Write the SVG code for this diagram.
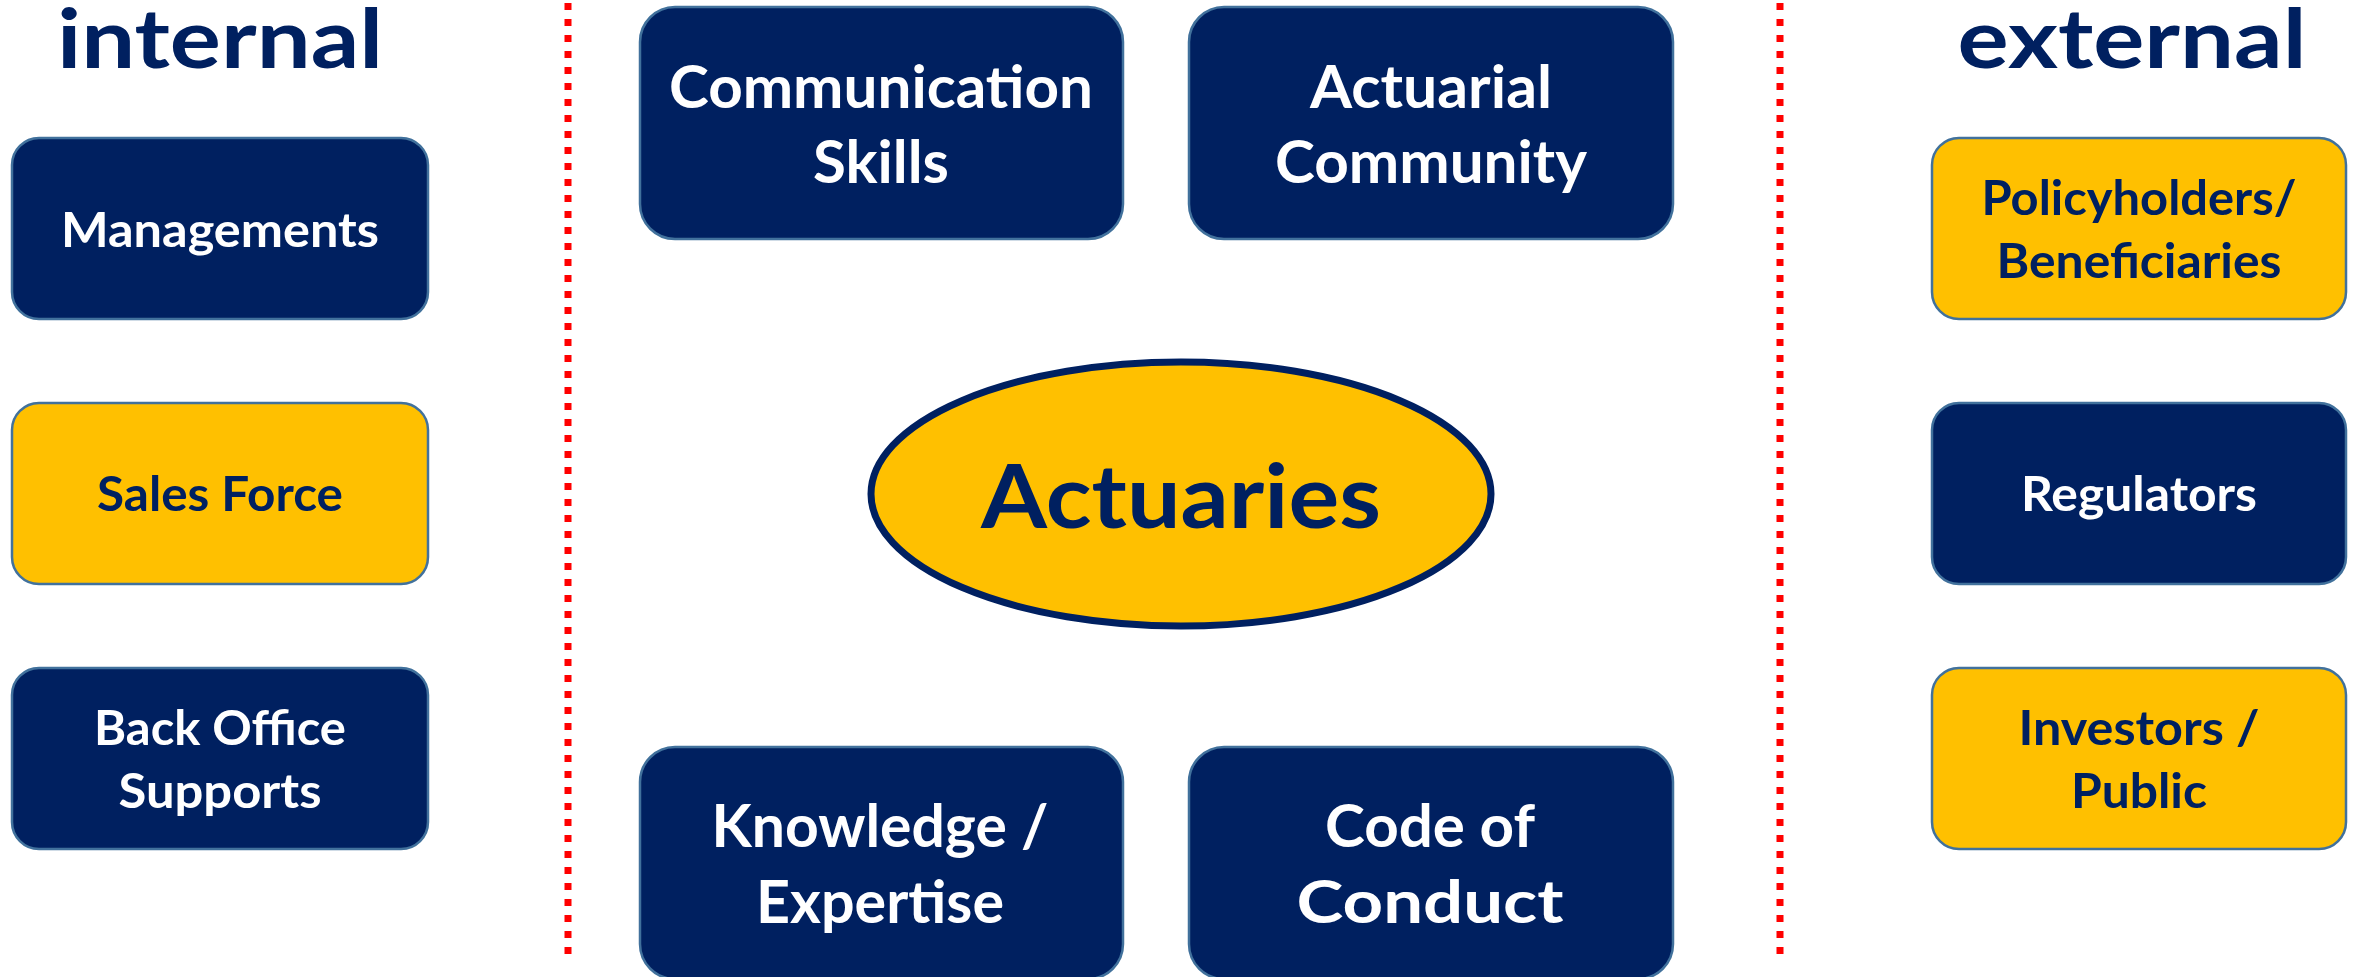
<svg xmlns="http://www.w3.org/2000/svg" width="2361" height="977" viewBox="0 0 2361 977">
<style>
.t{font-family:Lato,"Open Sans","Liberation Sans",sans-serif;font-weight:bold;text-anchor:middle}
.navy{fill:#002060;stroke:#41719C;stroke-width:2.5}
.gold{fill:#FFC000;stroke:#41719C;stroke-width:2.5}
.w{fill:#FFFFFF}
.n{fill:#002060}
.s{font-size:48px}
.m{font-size:60px}
.h{font-size:82px;fill:#002060}
.div{stroke:#FF0000;stroke-width:7;stroke-dasharray:7 9;fill:none}
</style>
<rect width="2361" height="977" fill="#FFFFFF"/>
<g id="connectors">
<line class="div" x1="568" y1="3" x2="568" y2="958"/>
<line class="div" x1="1780" y1="3" x2="1780" y2="958"/>
</g>
<g id="label-internal"><text class="t h" x="220" y="68" textLength="326" lengthAdjust="spacingAndGlyphs">internal</text></g>
<g id="label-external"><text class="t h" x="2132" y="68" textLength="349" lengthAdjust="spacingAndGlyphs">external</text></g>
<g id="managements">
<rect class="navy" x="12" y="138" width="416" height="181" rx="27"/>
<text class="t s w" x="220" y="247" textLength="318" lengthAdjust="spacingAndGlyphs">Managements</text>
</g>
<g id="sales-force">
<rect class="gold" x="12" y="403" width="416" height="181" rx="27"/>
<text class="t s n" x="220" y="511" textLength="246" lengthAdjust="spacingAndGlyphs">Sales Force</text>
</g>
<g id="back-office">
<rect class="navy" x="12" y="668" width="416" height="181" rx="27"/>
<text class="t s w" x="220" y="745" textLength="252" lengthAdjust="spacingAndGlyphs">Back Office</text>
<text class="t s w" x="220" y="808" textLength="203" lengthAdjust="spacingAndGlyphs">Supports</text>
</g>
<g id="communication-skills">
<rect class="navy" x="640" y="7" width="483" height="232" rx="35"/>
<text class="t m w" x="881" y="108" textLength="424" lengthAdjust="spacingAndGlyphs">Communication</text>
<text class="t m w" x="881" y="183" textLength="136" lengthAdjust="spacingAndGlyphs">Skills</text>
</g>
<g id="actuarial-community">
<rect class="navy" x="1189" y="7" width="484" height="232" rx="35"/>
<text class="t m w" x="1431" y="108" textLength="242" lengthAdjust="spacingAndGlyphs">Actuarial</text>
<text class="t m w" x="1431" y="183" textLength="312" lengthAdjust="spacingAndGlyphs">Community</text>
</g>
<g id="actuaries">
<ellipse cx="1181" cy="494" rx="310" ry="132" fill="#FFC000" stroke="#002060" stroke-width="7"/>
<text class="t n" x="1181" y="528" font-size="88" textLength="400" lengthAdjust="spacingAndGlyphs">Actuaries</text>
</g>
<g id="knowledge-expertise">
<rect class="navy" x="640" y="747" width="483" height="232" rx="35"/>
<text class="t m w" x="880" y="847" textLength="337" lengthAdjust="spacingAndGlyphs">Knowledge /</text>
<text class="t m w" x="880" y="923" textLength="248" lengthAdjust="spacingAndGlyphs">Expertise</text>
</g>
<g id="code-of-conduct">
<rect class="navy" x="1189" y="747" width="484" height="232" rx="35"/>
<text class="t m w" x="1430" y="847" textLength="210" lengthAdjust="spacingAndGlyphs">Code of</text>
<text class="t m w" x="1430" y="923" textLength="267" lengthAdjust="spacingAndGlyphs">Conduct</text>
</g>
<g id="policyholders">
<rect class="gold" x="1932" y="138" width="414" height="181" rx="27"/>
<text class="t s n" x="2139" y="215" textLength="315" lengthAdjust="spacingAndGlyphs">Policyholders/</text>
<text class="t s n" x="2139" y="278" textLength="285" lengthAdjust="spacingAndGlyphs">Beneficiaries</text>
</g>
<g id="regulators">
<rect class="navy" x="1932" y="403" width="414" height="181" rx="27"/>
<text class="t s w" x="2139" y="511" textLength="236" lengthAdjust="spacingAndGlyphs">Regulators</text>
</g>
<g id="investors-public">
<rect class="gold" x="1932" y="668" width="414" height="181" rx="27"/>
<text class="t s n" x="2139" y="745" textLength="241" lengthAdjust="spacingAndGlyphs">Investors /</text>
<text class="t s n" x="2139" y="808" textLength="136" lengthAdjust="spacingAndGlyphs">Public</text>
</g>
</svg>
